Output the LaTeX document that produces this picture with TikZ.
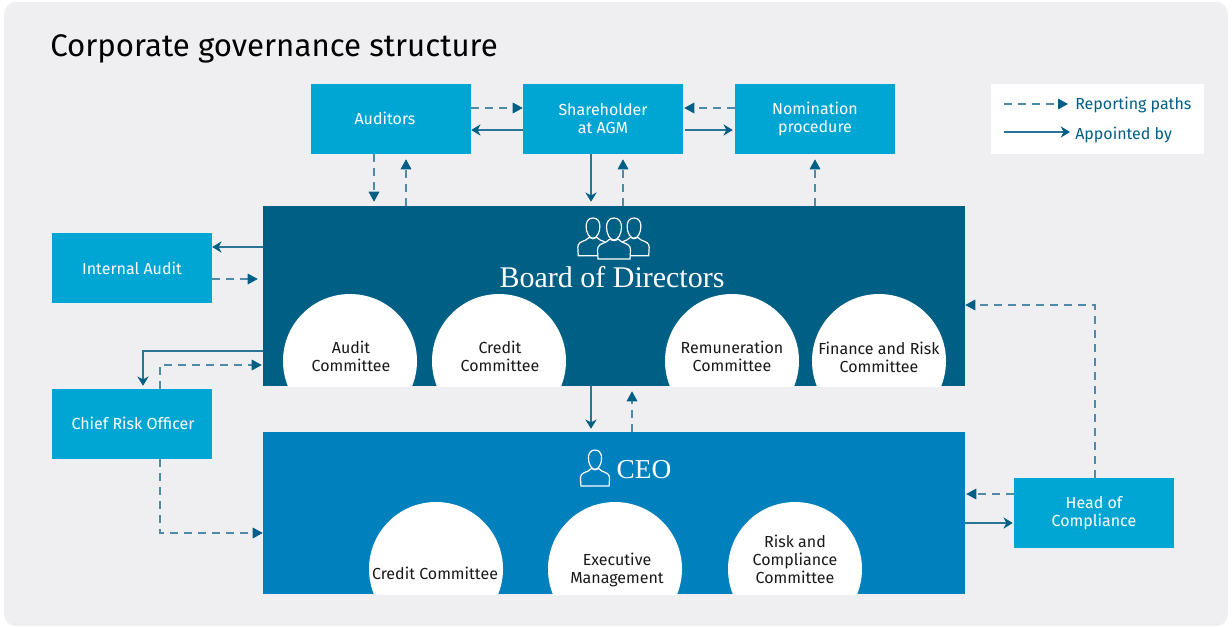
\documentclass[tikz,border=0pt]{standalone}
\usepackage{fontspec}
\setmainfont{Fira Sans}
\newfontfamily\headfont{Liberation Serif}
\usetikzlibrary{arrows.meta}

\definecolor{pagegrey}{HTML}{EFEFF2}
\definecolor{boxblue}{HTML}{00A6D3}
\definecolor{boardblue}{HTML}{005F85}
\definecolor{ceoblue}{HTML}{0080BD}
\definecolor{pathblue}{HTML}{4F8BA8}
\definecolor{solidblue}{HTML}{2A7497}

\tikzset{
    unitbox/.style={fill=boxblue, text=white, minimum width=120pt, minimum height=52.5pt,
        inner sep=0pt, align=center, font=\fontsize{12}{13.5}\selectfont},
    bigbox/.style={minimum width=526.5pt, inner sep=0pt},
    headtext/.style={text=white, inner sep=0pt, font=\headfont\fontsize{22.5}{25}\selectfont},
    cmttext/.style={text=black!90, inner sep=0pt, align=center, font=\fontsize{12}{13.5}\selectfont},
    report/.style={pathblue, line width=.85pt, dash pattern=on 6pt off 4.5pt,
        -{Triangle[length=7.5pt, width=8pt, color=boardblue]}},
    appoint/.style={solidblue, line width=.8pt, -{Stealth[length=7pt, width=8.5pt, color=boardblue]}},
    legendtext/.style={text=boardblue, inner sep=0pt, anchor=west, font=\fontsize{12}{13.5}\selectfont},
    person/.pic={
        \draw[pic actions] (-16,41) -- (-16.5,32) .. controls (-16.5,27) and (-13,26) .. (-8,24)
            -- (-4,21) .. controls (-2,23) and (2,23) .. (4,21) -- (8,24)
            .. controls (13,26) and (16.5,27) .. (16.5,32) -- (16,41) -- cycle;
        \draw[pic actions] (0,0) .. controls (5,0) and (7.5,4) .. (7.5,9)
            .. controls (7.5,16) and (4,22) .. (0,22) .. controls (-4,22) and (-7.5,16) .. (-7.5,9)
            .. controls (-7.5,4) and (-5,0) .. (0,0) -- cycle;
    }
}

\begin{document}
\begin{tikzpicture}[x=.75pt, y=-.75pt]
    \useasboundingbox (0,0) rectangle (1232,626);
    % --- background and title ---
    \fill[pagegrey, rounded corners=9pt] (4,2) rectangle (1228,626);
    \node[anchor=west, inner sep=0pt, font=\fontsize{23.4}{28}\selectfont] (title) at (50,49) {Corporate governance structure};

    % --- main blocks ---
    \node[bigbox, fill=boardblue, minimum height=135pt] (board) at (614,296) {};
    \node[bigbox, fill=ceoblue, minimum height=121.5pt] (ceo) at (614,513) {};

    % --- small boxes ---
    \node[unitbox] (auditors) at (391,119) {\hspace*{-9pt}\raisebox{.75pt}{Auditors}};
    \node[unitbox, text depth=1.5pt] (holder) at (603,119) {Shareholder\\at AGM};
    \node[unitbox] (nomination) at (815,119) {Nomination\\procedure};
    \node[unitbox] (internal) at (132,268) {Internal Audit};
    \node[unitbox] (risk) at (132,424) {\hspace*{1.5pt}\raisebox{.75pt}{Chief Risk Officer}};
    \node[unitbox, text depth=3pt] (compliance) at (1094,513) {Head of\\Compliance};

    % --- committee circles, cut off by the block below them ---
    \begin{scope}
        \clip (board.south west) rectangle (board.north east);
        \foreach \xpos in {350, 499, 732, 879} {
            \fill[white] (\xpos,361) circle[radius=50.25pt];
        }
    \end{scope}
    \begin{scope}
        \clip (ceo.south west) rectangle (ceo.north east);
        \foreach \xpos in {436, 615, 795} {
            \fill[white] (\xpos,569) circle[radius=50.25pt];
        }
    \end{scope}
    \node[cmttext] (cmtaudit) at (351,356) {Audit\\Committee};
    \node[cmttext] (cmtcredit) at (500,356) {Credit\\Committee};
    \node[cmttext] (cmtremun) at (732,356) {Remuneration\\Committee};
    \node[cmttext] (cmtfinance) at (879,357) {Finance and Risk\\Committee};
    \node[cmttext] (cmtceocredit) at (435,573) {Credit Committee};
    \node[cmttext] (cmtexec) at (617,570) {Executive\\Management};
    \node[cmttext] (cmtrisk) at (795,559) {Risk and\\Compliance\\Committee};

    % --- block headings and icons ---
    \pic[draw=white, fill=boardblue, line width=.9pt, scale=.92] at (593,218) {person};
    \pic[draw=white, fill=boardblue, line width=.9pt, scale=.92] at (634,218) {person};
    \pic[draw=white, fill=boardblue, line width=.9pt] at (614,218) {person};
    \node[headtext] (boardhead) at (612,277) {Board of Directors};
    \pic[draw=white, fill=ceoblue, line width=.9pt, scale=.88] at (595,450) {person};
    \node[headtext, font=\headfont\fontsize{20.5}{25}\selectfont] (ceohead) at (644,470) {CEO};

    % --- top row ---
    \draw[report] (auditors.east |- 0,108) -- (holder.west |- 0,108);
    \draw[appoint] (holder.west |- 0,130) -- (auditors.east |- 0,130);
    \draw[report, shorten >=.75pt] (nomination.west |- 0,108) -- (holder.east |- 0,108);
    \draw[appoint, shorten >=1.5pt, shorten <=1.5pt] (holder.east |- 0,130) -- (nomination.west |- 0,130);

    % --- top row to board ---
    \draw[report, shorten >=3pt] (auditors.south -| 374,0) -- (board.north -| 374,0);
    \draw[report, shorten >=3.75pt] (board.north -| 406,0) -- (auditors.south -| 406,0);
    \draw[appoint, shorten >=3pt] (holder.south -| 591,0) -- (board.north -| 591,0);
    \draw[report, shorten >=3.75pt] (board.north -| 623,0) -- (holder.south -| 623,0);
    \draw[report, shorten >=3.75pt] (board.north -| 815,0) -- (nomination.south);

    % --- left side ---
    \draw[appoint] (board.west |- 0,247) -- (internal.east |- 0,247);
    \draw[report, shorten >=3.75pt] (internal.east |- 0,279) -- (board.west |- 0,279);
    \draw[appoint, shorten >=2.25pt] (board.west |- 0,351) -| (risk.north -| 143,0);
    \draw[report, shorten >=.75pt] (risk.north -| 160,0) |- (board.west |- 0,365);
    \draw[report] (risk.south -| 160,0) |- (ceo.west |- 0,533);

    % --- board and CEO ---
    \draw[appoint, shorten >=2.25pt] (board.south -| 591,0) -- (ceo.north -| 591,0);
    \draw[report, shorten >=3.75pt] (ceo.north -| 632,0) -- (board.south -| 632,0);

    % --- right side ---
    \draw[report] (compliance.north -| 1095,0) |- (board.east |- 0,305);
    \draw[report, shorten >=.75pt] (compliance.west |- 0,494) -- (ceo.east |- 0,494);
    \draw[appoint, shorten >=.75pt] (ceo.east |- 0,523) -- (compliance.west |- 0,523);

    % --- legend ---
    \node[fill=white, minimum width=159.75pt, minimum height=52.5pt, inner sep=0pt] (legend) at (1097.5,119) {};
    \node[legendtext] (reporttext) at (1075,105) {Reporting paths};
    \node[legendtext] (appointtext) at (1075,135) {Appointed by};
    \coordinate (reportfrom) at (1004,104);
    \coordinate (appointfrom) at (1004,132);
    \draw[report, shorten >=5.25pt] (reportfrom) -- (reporttext.west |- reportfrom);
    \draw[appoint, shorten >=3.75pt] (appointfrom) -- (appointtext.west |- appointfrom);
\end{tikzpicture}
\end{document}
